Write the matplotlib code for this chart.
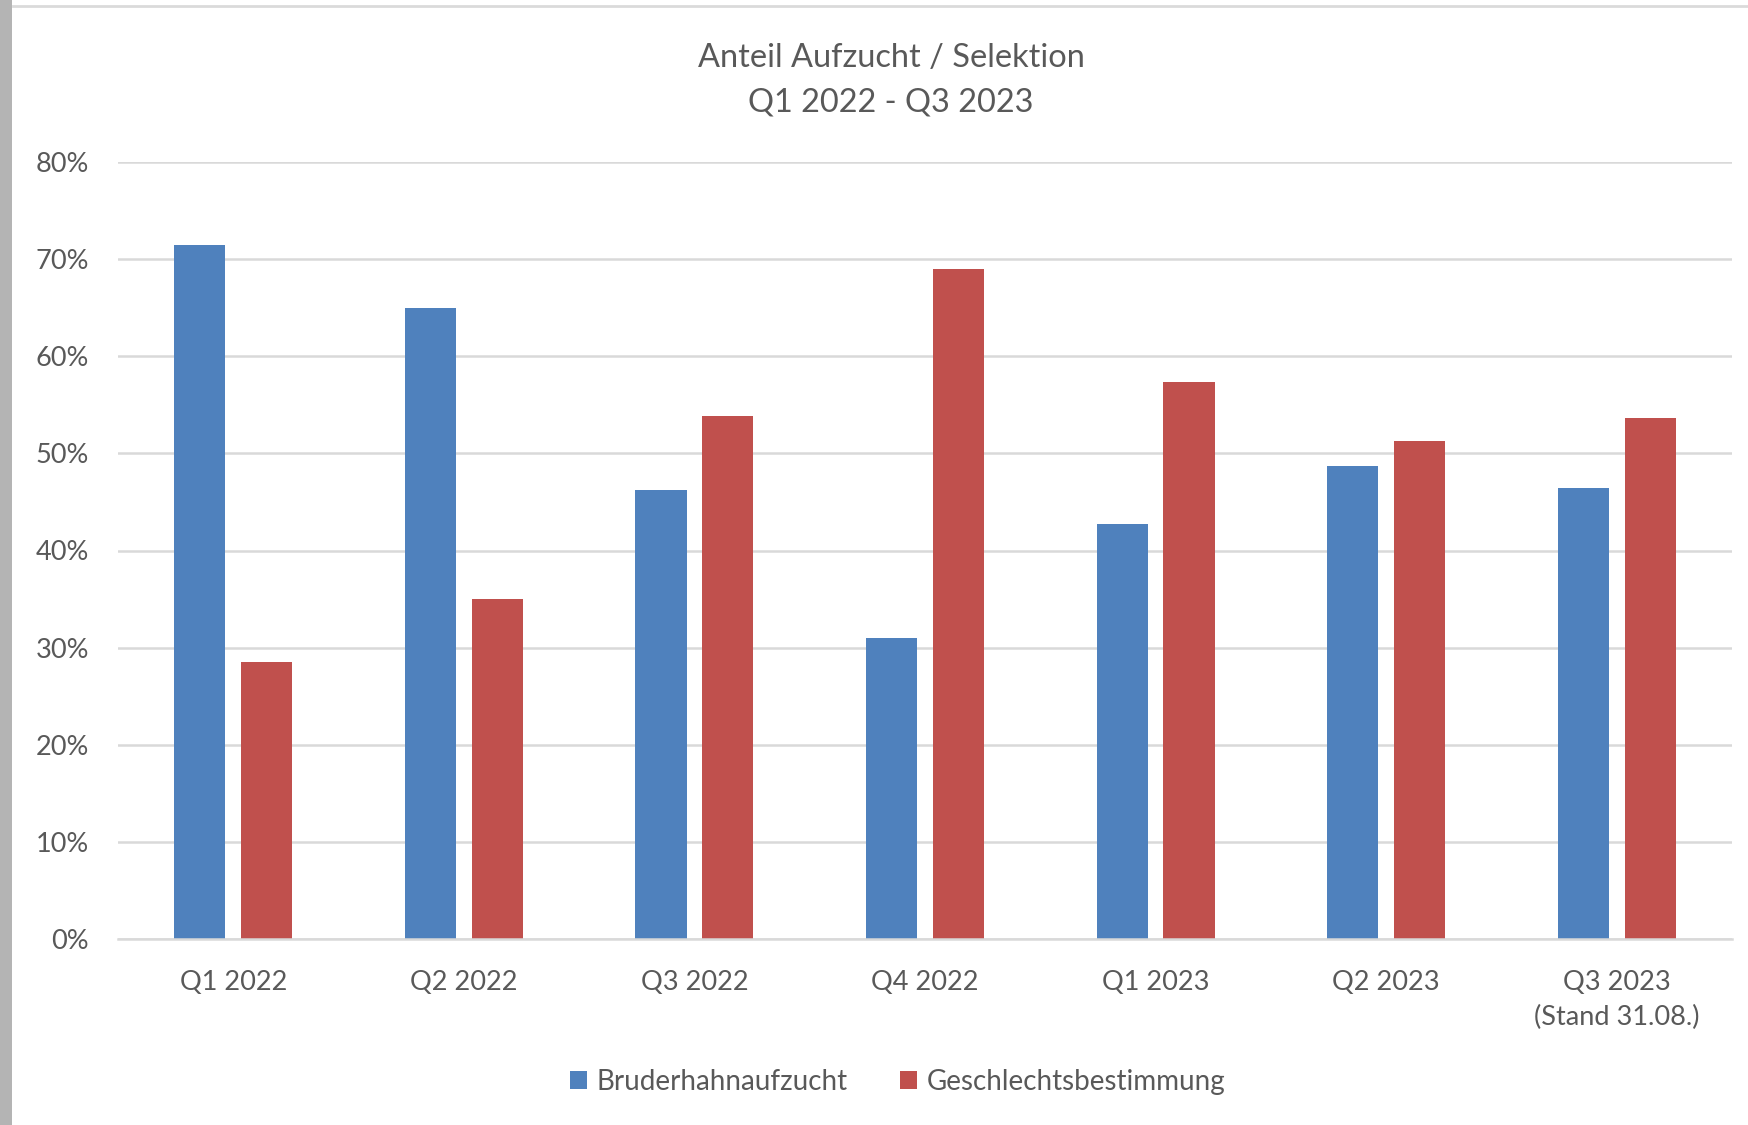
import matplotlib
matplotlib.use("Agg")
import matplotlib.pyplot as plt
from matplotlib.patches import Rectangle, Patch
from matplotlib.lines import Line2D
import numpy as np

categories = ["Q1 2022", "Q2 2022", "Q3 2022", "Q4 2022", "Q1 2023", "Q2 2023",
              "Q3 2023\n(Stand 31.08.)"]
bruderhahn = [71.5, 65.0, 46.2, 31.0, 42.7, 48.7, 46.4]
geschlecht = [28.5, 35.0, 53.8, 69.0, 57.3, 51.3, 53.6]
series_names = ["Bruderhahnaufzucht", "Geschlechtsbestimmung"]
yticks = [0, 10, 20, 30, 40, 50, 60, 70, 80]
title = "Anteil Aufzucht / Selektion\nQ1 2022 - Q3 2023"

BLUE = "#4F81BD"
RED = "#C0504D"
TXT = "#595959"
GRID = "#D9D9D9"

plt.rcParams["font.family"] = ["Lato", "DejaVu Sans"]

W, H = 1748, 1125
fig = plt.figure(figsize=(W / 100, H / 100), dpi=100)
fig.patch.set_facecolor("white")

# left gray band and top frame line
fig.add_artist(Rectangle((0, 0), 12 / W, 1, transform=fig.transFigure,
                         facecolor="#B4B4B4", edgecolor="none"))
fig.add_artist(Line2D([13 / W, 1], [1 - 6 / H, 1 - 6 / H], transform=fig.transFigure,
                      color="#DADADA", lw=2))

left, right = 118 / W, 1732 / W
bottom, top = 1 - 939 / H, 1 - 162 / H
ax = fig.add_axes([left, bottom, right - left, top - bottom])

x = np.arange(len(categories))
bw = 0.222
off = 0.145
ax.bar(x - off, bruderhahn, width=bw, color=BLUE, zorder=3, label=series_names[0])
ax.bar(x + off, geschlecht, width=bw, color=RED, zorder=3, label=series_names[1])

ax.set_xlim(-0.5, len(categories) - 0.5)
ax.set_ylim(0, 80)
ax.set_yticks(yticks)
ax.set_yticklabels([f"{v}%" for v in yticks])
ax.set_xticks(x)
ax.set_xticklabels(categories, linespacing=1.5)

for s in ["top", "right", "left"]:
    ax.spines[s].set_visible(False)
ax.spines["bottom"].set_color(GRID)
ax.spines["bottom"].set_linewidth(1.8)
ax.spines["bottom"].set_zorder(4)

ax.yaxis.grid(True, color=GRID, lw=1.8, zorder=0)
ax.set_axisbelow(True)
ax.tick_params(axis="both", length=0, colors=TXT, labelsize=19.5)
ax.tick_params(axis="y", pad=21)
ax.tick_params(axis="x", pad=22)

fig.text(891 / W, 1 - 80 / H, title, ha="center", va="center", fontsize=23.4,
         color=TXT, linespacing=1.6)

handles = [Patch(facecolor=BLUE, edgecolor="none"), Patch(facecolor=RED, edgecolor="none")]
fig.legend(handles, series_names, loc="center", bbox_to_anchor=((569 + 1226) / 2 / W, 1 - 1082 / H),
           ncol=2, frameon=False, fontsize=20, labelcolor=TXT,
           handlelength=0.6, handleheight=0.6, handletextpad=0.35, columnspacing=1.9)

fig.savefig("out.png", dpi=100, facecolor="white")
